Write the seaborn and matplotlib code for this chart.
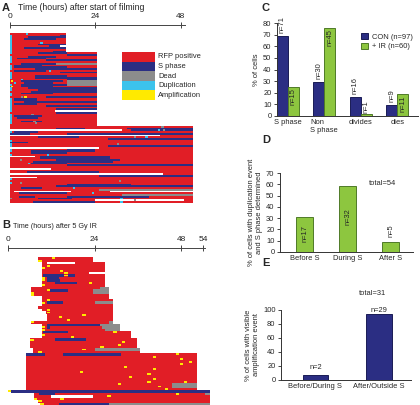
import matplotlib
matplotlib.use('Agg')
import matplotlib.pyplot as plt
import seaborn as sns
import pandas as pd
from matplotlib.patches import Patch

sns.set_style("white")
plt.rcParams['font.family'] = ['Liberation Sans', 'DejaVu Sans']

RED = '#E11E26'
NAVY = '#2B2E83'
GRAY = '#8C8C8C'
CYAN = '#3CC3EC'
YELLOW = '#FFEA00'
GREEN = '#8DC63F'
state_colors = {'R': RED, 'S': NAVY, 'D': GRAY, 'C': CYAN, 'A': YELLOW}

legend_codes = ['R', 'S', 'D', 'C', 'A']
legend_labels = ['RFP positive', 'S phase', 'Dead', 'Duplication', 'Amplification']

# one string per cell track: code + start-end (hours), a single value = short event mark
tracks_con = [
    "R0-15.7 C4.5", "R0-15.7 C0 S14-15.7", "R0-15.7 C0 S5-15.7", "R0-15.7 C0 S4-13",
    "R0-15.7 C0", "R0-15.7 C0 C8.5", "R0-15.7 C0 S8-15.7", "R0-14 C0 S11-14",
    "R0-15.7 C0 S4-15.7", "R0-15.7 C0", "R0-15.7 C0 S12-15.7",
    "R0-24.3 C0 S8-16", "R0-24.3 S16-24.3", "R0-24.3 C0 S5-13", "R0-24.3 C0 S2-10",
    "R0-24.3 C0 S10-24.3", "R0-24.3 C0", "R0-24.3 S3-13 D13-24.3", "R0-24.3 C0 S1-9",
    "R0-24.3 C0 S1-16", "R0-24.3 C0 S7-24.3", "R0-24.3 S1-10 C11", "R0-24.3 C0 S14-24.3",
    "R0-24.3 C0", "R0-24.3 C0 S7-16", "R0-24.3 C0 S7-24.3", "R0-24.3 C3 S16-24.3",
    "R0-24.3 A0.3 S3-15 D16-24.3", "R0-24.3 C1 S4-12 D16-24.3", "R0-24.3 C0 S3-16 D16-24.3",
    "R0-24.3 A0.3 S3-12", "R0-24.3 C0 S5-24.3", "R0-24.3 C0 S8-24.3", "R0-24.3 S6-24.3",
    "R0-24.3 C0 S3-12", "R0-24.3 C0", "R0-24.3 D3 A4 S10-24.3", "R0-24.3 C0 S1-7.5",
    "R0-24.3 C0 S1-7.5", "R0-24.3 C0 S4-24.3", "R0-24.3 C0 S1-7.5", "R0-24.3 C0 S10-24.3",
    "R0-24.3 C0", "R0-24.3 C0 S13-24.3", "R0-12.5 C0", "R0-24.3 S13-24.3",
    "R0-24.3 C0 D6", "R0-24.3 C0 S1-9", "R0-24.3 C0 S2-8", "R0-24.3 C0",
    "R0-24.3 C0 S3-9 D6.6", "R0-24.3 C0 D7", "R0-24.3",
    "R0-51.5 D42.5", "R0-51.5 S13-21 S33-51.5", "R31.5-51.5 S34-51.5 C41.5 D43",
    "R0-51.5 C0 S1-8", "R0-51.5 S0-5.5 S16-51.5", "R42-51.5", "R0-51.5 S8-19.5 D34.8 C38",
    "R0-51.5 S27.5-51.5", "R0-51.5 C0", "R0-51.5 S0-5", "R0-51.5 C0 D30",
    "R0-51.5 C0 S27.5-51.5", "R25-51.5", "R0-51.5 C0 S16-24", "R0-51.5 C0 S6-24",
    "R0-51.5 S6-16", "R0-51.5 C0 C10.3", "R7-51.5 S8.5-28", "R0-51.5 S8.5-28",
    "R0-51.5 D2.8 S13-31", "R0-51.5 S6.5-29", "R0-51.5 C5 S5.8-16", "R0-51.5 S16-51.5",
    "R0-51.5", "R11.5-51.5", "R0-51.5", "R0-51.5 S4.7-25", "R43-51.5",
    "R0-51.5 S25-51.5", "R7.5-51.5", "R0-51.5 C0", "R0-51.5 D30.6", "R0-51.5 C0 D2.8",
    "R0-51.5 S16-34", "R0-51.5 S13-51.5", "R0-51.5 S3-9 C17.6", "R0-51.5 D25-51.5",
    "R0-1 R17-28", "R0-51.5 S2.5-16 C23", "R0-51.5 D31.5-51.5", "R0-51.5 S2.5-7 S16-39",
    "R0-51.5 D0 S8-17.5 C31", "R0-24 R49-51.5 D34.8", "R0-51.5 S6.5-24 C31",
]

tracks_ir = [
    "R8.4-23.5 A12.2", "R8.4-23.5 A8.4", "R9.4-10.7 R18.6-27", "R9.4-27 A10.7",
    "R9.4-27 A9.4", "R9.4-27 A14.3", "R9.4-22.3 A15.6", "R9.4-27 S9.6-15.4 A15.6 S16.5-18.5",
    "R9.4-27 A9.4 S10.7-14", "R9.4-27 A9.4 S10.7-14.5", "R9.4-27 S13-19 A22.4", "R9.4-27 A9.4",
    "R6.4-27.9 D25.6-27.9", "R6.4-27.9 A10.7 S11.6-16.5 D23.5-27.9", "R6.4-27.9 A6.4 D23.5-27.9",
    "R6.4-27.9 A6.4", "R9.4-27.9", "R9.4-29.2 A10.7", "R9.4-29.2 A9.4 S10.7-15.2 D24-29.2",
    "R9.4-29.2", "R8.4-29.2", "R9.4-29.2 A10.7", "R10.4-29.2 A10.7", "R10.7-29.2 A20.6",
    "R10.7-29.2 A14", "R10.7-29.2 A16.3", "R6.4-29.2 A6.4 D27.9-29.2",
    "R9.4-31 S10.7-25.6 D25.6-31", "R9.4-31 A9.4 S10.7-11.6 D26-31", "R9.4-31 A9.4 D27-31",
    "R9.4-34 S9.6-16.5 A29.2", "R9.4-34 A9.4", "R9.4-34 A17.4", "R6.2-35.7 A6.2 S13-21.6",
    "R6.2-35.7 A31.5", "R6.2-35.7 A30.4", "R6.2-35.7 A25.6", "R7-36.5 A20.6 D24-36.5",
    "R7-36.5 A8.4", "R5-52.4 S5-10.3 S15.2-31.3 A46.6", "R5-52.4 A40.2", "R5-52.4 A47.6",
    "R5-52.4 A50", "R5-52.4 A47.6", "R5-52.4 A32", "R5-52.4 A40.2", "R5-52.4 A20",
    "R5-52.4 A38.6", "R5-52.4 A33.5", "R5-52.4 A40.2", "R5-52.4 A48.8 A38.6",
    "R5-52.4 D45.5-52.4 A30.5", "R5-52.4 D45.5-52.4 A41.5", "R5-52.4 A43.5",
    "S0.9-56 A0", "R7.2-56 S8.6-13 A46.5 D54.5-56", "R7.2-12 R23.5-56 A27.5",
    "R7.2-56 A7.2 A14.5", "R8.4-56 A8.4", "R9-56 A9 S14-28 D28-56",
]

c_categories = ['S phase', 'Non\nS phase', 'divides', 'dies']
c_con = [68.8, 29.2, 16.6, 9.5]
c_ir = [25.2, 75.7, 1.5, 18.7]
c_con_n = ['n=71', 'n=30', 'n=16', 'n=9']
c_ir_n = ['n=15', 'n=45', 'n=1', 'n=11']

d_categories = ['Before S', 'During S', 'After S']
d_values = [30.7, 58.5, 9.2]
d_n = ['n=17', 'n=32', 'n=5']

e_categories = ['Before/During S', 'After/Outside S']
e_values = [7.0, 94.0]
e_n = ['n=2', 'n=29']

W, H = 420, 405
FS = 5.4


def px_axes(fig, x0, y0, x1, y1):
    # pixel box (top-left origin) -> figure axes
    return fig.add_axes([x0 / W, 1 - y1 / H, (x1 - x0) / W, (y1 - y0) / H])


def parse_track(spec, mark_w):
    segs = []
    for tok in spec.split():
        code, span = tok[0], tok[1:]
        if '-' in span:
            a, b = [float(v) for v in span.split('-')]
        else:
            a = float(span)
            b = a + mark_w
        segs.append((code, a, b))
    return segs


def draw_tracks(ax, tracks, mark_w, mark_h):
    layers = {c: ([], [], []) for c in legend_codes}
    for i, spec in enumerate(tracks):
        for code, a, b in parse_track(spec, mark_w):
            layers[code][0].append(i)
            layers[code][1].append(a)
            layers[code][2].append(b - a)
    for code in legend_codes:
        ys, lefts, widths = layers[code]
        h = mark_h if code in 'CA' else 1.0
        ax.barh(ys, widths, left=lefts, height=h, color=state_colors[code], linewidth=0)


def time_axis(ax, ticks, right):
    for s in ['left', 'right', 'bottom']:
        ax.spines[s].set_visible(False)
    ax.spines['top'].set_bounds(0, right)
    ax.spines['top'].set_linewidth(0.7)
    ax.spines['top'].set_color('#444444')
    ax.xaxis.tick_top()
    ax.set_xticks(ticks)
    ax.tick_params(axis='x', direction='inout', length=5, width=0.7, pad=1,
                   labelsize=6, colors='#444444', labelcolor='#222222')
    ax.set_yticks([])
    ax.patch.set_alpha(0)


def bar_axes_style(ax):
    sns.despine(ax=ax)
    for s in ['left', 'bottom']:
        ax.spines[s].set_linewidth(0.7)
        ax.spines[s].set_color('#333333')
    ax.tick_params(axis='y', length=2.5, width=0.6, pad=1.5, labelsize=FS, left=True)
    ax.tick_params(axis='x', length=0, pad=2, labelsize=FS)
    ax.set_xlabel('')


fig = plt.figure(figsize=(W / 100, H / 100), dpi=100)

# ---- A: control cell tracks
axA = px_axes(fig, 10, 25, 205, 203)
draw_tracks(axA, tracks_con, 0.65, 1.0)
axA.set_xlim(0, 195 / 3.56)
axA.set_ylim(len(tracks_con) - 0.5, -5.06)
time_axis(axA, [0, 24, 48], 49.2)
fig.text(2 / W, 1 - 8 / H, 'A', fontsize=8, fontweight='bold', va='center')
fig.text(18 / W, 1 - 8 / H, 'Time (hours) after start of filming', fontsize=6.3, va='center')

axL = px_axes(fig, 122, 52, 205, 100)
axL.barh(range(len(legend_codes)), 1, left=0, height=1.0,
         color=[state_colors[c] for c in legend_codes], linewidth=0)
for i, lab in enumerate(legend_labels):
    axL.text(1.1, i, lab, fontsize=FS, va='center')
axL.set_xlim(0, 83 / 33)
axL.set_ylim(len(legend_codes) - 0.5, -0.5)
axL.axis('off')

# ---- B: irradiated cell tracks
axB = px_axes(fig, 8, 248, 215, 405)
draw_tracks(axB, tracks_ir, 0.9, 0.8)
axB.set_xlim(0, 207 / 3.61)
axB.set_ylim(len(tracks_ir) - 0.5, -4.15)
time_axis(axB, [0, 24, 48, 54], 54.6)
fig.text(2 / W, 1 - 225 / H, 'B', fontsize=8, fontweight='bold', va='center')
fig.text(13 / W, 1 - 226 / H, 'Time (hours) after 5 Gy IR', fontsize=5.2, va='center')

# ---- C: fates, CON vs IR
dfC = pd.DataFrame({
    'category': c_categories * 2,
    'pct': c_con + c_ir,
    'group': ['CON (n=97)'] * 4 + ['+ IR (n=60)'] * 4,
})
axC = px_axes(fig, 277, 23, 418, 116)
sns.barplot(data=dfC, x='category', y='pct', hue='group', palette=[NAVY, GREEN],
            width=0.6, saturation=1, errorbar=None, legend=False, ax=axC)
edge = {0: '#1A1C55', 1: '#4F7A28'}
for k, cont in enumerate(axC.containers):
    for bar in cont:
        bar.set_edgecolor(edge[k])
        bar.set_linewidth(0.7)
for bar, val, lab in zip(axC.containers[0], c_con, c_con_n):
    axC.text(bar.get_x() + bar.get_width() / 2, val + 2.5, lab, rotation=90,
             ha='center', va='bottom', fontsize=FS)
for bar, val, lab in zip(axC.containers[1], c_ir, c_ir_n):
    if val > 10:
        axC.text(bar.get_x() + bar.get_width() / 2, val - 1, lab, rotation=90,
                 ha='center', va='top', fontsize=FS)
    else:
        axC.text(bar.get_x() + bar.get_width() / 2, val + 1.5, lab, rotation=90,
                 ha='center', va='bottom', fontsize=FS)
axC.set_ylim(0, 80)
axC.set_yticks(range(0, 81, 10))
axC.set_xlim(-0.3, 3.57)
axC.set_ylabel('% of cells', fontsize=FS, labelpad=2)
bar_axes_style(axC)
for t in axC.get_xticklabels():
    t.set_multialignment('left')
handles = [Patch(facecolor=NAVY, edgecolor=edge[0], linewidth=0.7),
           Patch(facecolor=GREEN, edgecolor=edge[1], linewidth=0.7)]
axC.legend(handles, ['CON (n=97)', '+ IR (n=60)'], loc='upper left',
           bbox_to_anchor=(361 / W, 1 - 33 / H), bbox_transform=fig.transFigure,
           frameon=False, fontsize=FS, handlelength=0.9, handleheight=0.9,
           handletextpad=0.6, labelspacing=0.25, borderpad=0, borderaxespad=0)
fig.text(262 / W, 1 - 8 / H, 'C', fontsize=8, fontweight='bold', va='center')

# ---- D: timing of duplication
axD = px_axes(fig, 280, 173, 413, 252)
sns.barplot(x=d_categories, y=d_values, color=GREEN, width=0.4, saturation=1,
            errorbar=None, edgecolor='#4F7A28', linewidth=0.7, ax=axD)
for bar, val, lab in zip(axD.containers[0], d_values, d_n):
    xc = bar.get_x() + bar.get_width() / 2
    if lab == 'n=17':
        axD.text(xc, 16.8, lab, rotation=90, ha='center', va='center', fontsize=FS)
    elif lab == 'n=32':
        axD.text(xc, 31, lab, rotation=90, ha='center', va='center', fontsize=FS)
    else:
        axD.text(xc, val + 4, lab, rotation=90, ha='center', va='bottom', fontsize=FS)
axD.set_ylim(0, 70)
axD.set_yticks(range(0, 71, 10))
axD.set_xlim(-0.57, 2.52)
axD.set_ylabel('% of cells with duplication event\nand S phase determined', fontsize=FS, labelpad=2)
bar_axes_style(axD)
axD.text(1.8, 60.5, 'total=54', fontsize=FS, ha='center', va='center')
fig.text(262 / W, 1 - 140 / H, 'D', fontsize=8, fontweight='bold', va='center')

# ---- E: timing of amplification
axE = px_axes(fig, 281, 310, 411, 380)
sns.barplot(x=e_categories, y=e_values, color=NAVY, width=0.4, saturation=1,
            errorbar=None, edgecolor='#1A1C55', linewidth=0.7, ax=axE)
for bar, val, lab in zip(axE.containers[0], e_values, e_n):
    xc = bar.get_x() + bar.get_width() / 2
    off = 6 if val < 50 else 0.5
    axE.text(xc, val + off, lab, ha='center', va='bottom', fontsize=FS)
axE.set_ylim(0, 100)
axE.set_yticks(range(0, 101, 20))
axE.set_xlim(-0.54, 1.5)
axE.set_ylabel('% of cells with visible\namplification event', fontsize=FS, labelpad=2)
bar_axes_style(axE)
axE.text(0.9, 123, 'total=31', fontsize=FS, ha='center', va='center', clip_on=False)
fig.text(262 / W, 1 - 263 / H, 'E', fontsize=8, fontweight='bold', va='center')

fig.savefig('out.png', dpi=100)
